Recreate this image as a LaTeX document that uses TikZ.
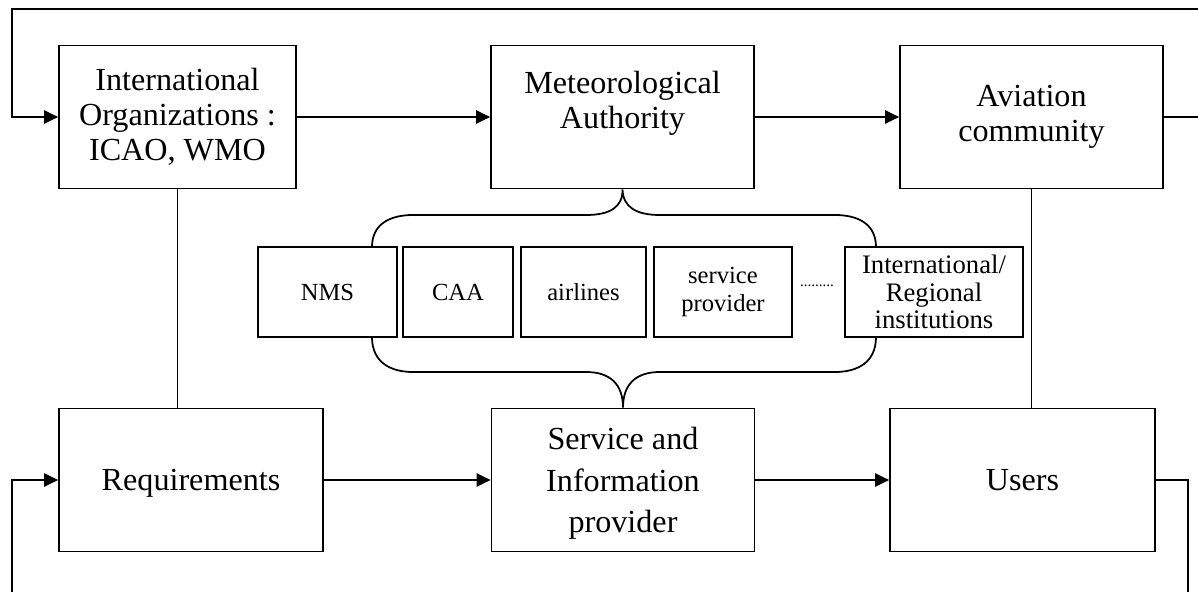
\documentclass[tikz,border=0pt]{standalone}
\usepackage{fontspec}
\setmainfont{Liberation Serif}
\usetikzlibrary{arrows.meta, calc}

\begin{document}
\begin{tikzpicture}[
    x=0.02cm, y=-0.02cm,
    bigbox/.style={draw, line width=1pt, minimum width=5.26cm, minimum height=2.86cm, inner sep=0pt, align=center, font=\fontsize{18.3}{20}\selectfont},
    smallbox/.style={draw, line width=1pt, minimum height=1.8cm, inner sep=0pt, align=center, font=\fontsize{14}{15.5}\selectfont},
    flow/.style={line width=1pt, -{Triangle[length=8pt,width=7.5pt]}},
    link/.style={line width=1pt},
    brace/.style={line width=1pt}
]
    \useasboundingbox (0,0) rectangle (1198,592);
    \clip (0,0) rectangle (1198,592);

    % Top row
    \node[bigbox, minimum width=4.74cm] (intl) at (177.5,117) {International\\Organizations :\\ICAO, WMO};
    \node[bigbox] (met) at (622.5,117) {Meteorological\\Authority\\\mbox{}};
    \node[bigbox] (avi) at (1031.5,117) {Aviation\\community};

    % Bottom row
    \node[bigbox, minimum width=5.28cm, text depth=0pt] (req) at (191,480) {Requirements};
    \node[bigbox, text depth=0pt, font=\fontsize{18.3}{23.5}\selectfont] (sip) at (623,480) {Service and\\Information\\provider};
    \node[bigbox, minimum width=5.3cm] (users) at (1022.5,480) {Users};

    % Members in the middle
    \node[smallbox, minimum width=2.78cm] (nms) at (327.5,292) {NMS};
    \node[smallbox, minimum width=2.2cm] (caa) at (458,292) {CAA};
    \node[smallbox, minimum width=2.5cm] (air) at (583.5,292) {airlines};
    \node[smallbox, minimum width=2.76cm] (svc) at (723,292) {service\\provider};
    \node[anchor=base, inner sep=0pt, font=\fontsize{8.5}{10}\selectfont] (etc) at (817,286) {.........};
    \node[smallbox, minimum width=3.56cm, font=\fontsize{15.2}{15.5}\selectfont] (inst) at (934,292) {International/\\Regional\\institutions};

    % Brace ends
    \coordinate (ul) at (372,247);
    \coordinate (ur) at (876,247);
    \coordinate (ll) at (372,337);
    \coordinate (lr) at (876,337);

    % Braces
    \draw[brace] (ul) .. controls (372,224) and (390,215) .. (413,215) -- (586,215)
        .. controls (610,215) and (623,207) .. (met.south)
        .. controls (623,207) and (636,215) .. (660,215) -- (835,215)
        .. controls (858,215) and (876,224) .. (ur);
    \draw[brace] (ll) .. controls (372,362) and (390,372) .. (413,372) -- (586,372)
        .. controls (610,372) and (623,384) .. (sip.north)
        .. controls (623,384) and (636,372) .. (660,372) -- (835,372)
        .. controls (858,372) and (876,362) .. (lr);

    % Arrows
    \draw[flow] (intl) -- (met);
    \draw[flow] (met) -- (avi);
    \draw[flow] (req) -- (sip);
    \draw[flow] (sip) -- (users);
    \draw[link] (intl.south) -- (intl.south |- req.north);
    \draw[link] (avi.south) -- (avi.south |- users.north);

    % Feedback loops
    \draw[flow] (avi.east) -- ++(80,0) |- (12,9) |- (intl.west);
    \draw[flow] (users.east) -- (1188,480) -- (1188,640) -| (12,480) -- (req.west);
\end{tikzpicture}
\end{document}
